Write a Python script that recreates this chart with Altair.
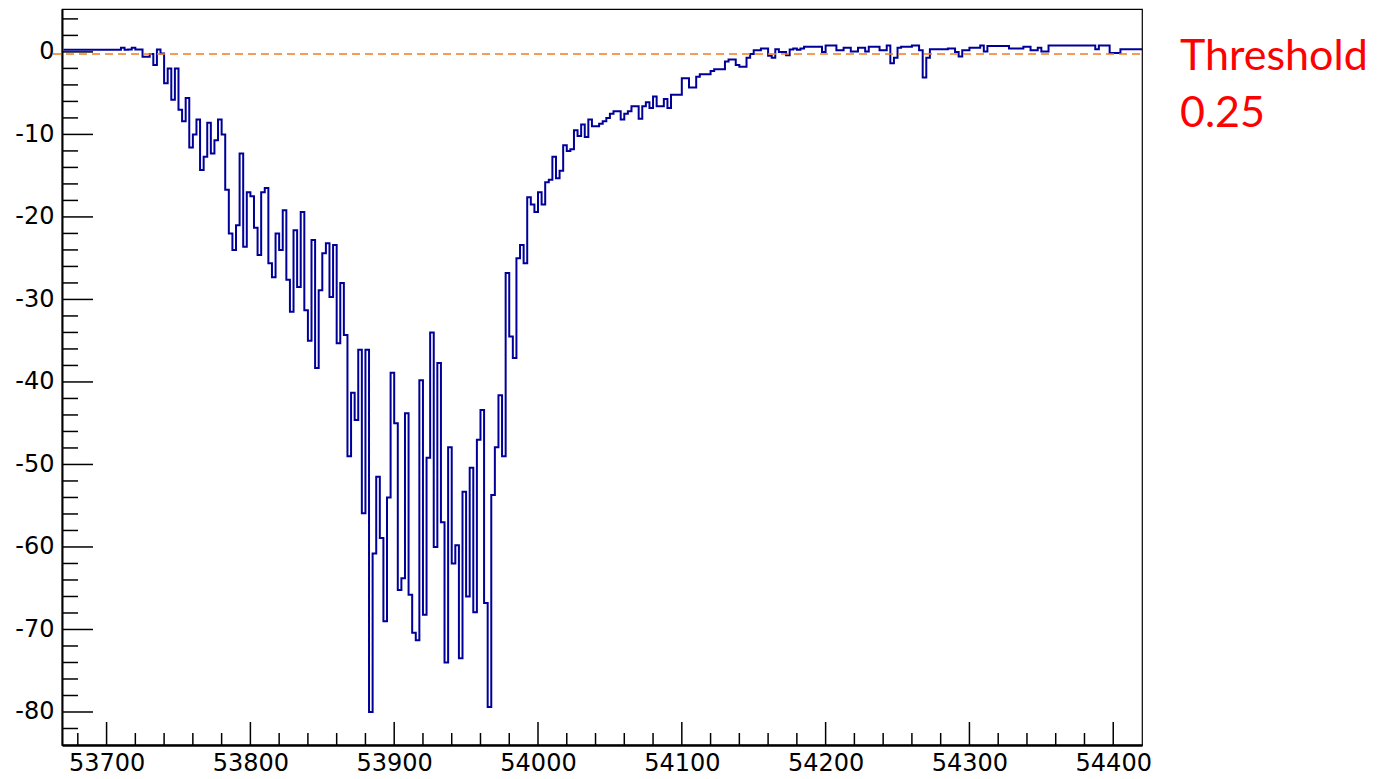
import altair as alt
import pandas as pd

# ---------------- data ----------------
X_START = 53670.0
BIN_WIDTH = 2.5
counts = [
    0.25, 0.25, 0.25, 0.25, 0.25, 0.25, 0.25, 0.25, 0.25, 0.25,
    0.25, 0.25, 0.25, 0.25, 0.25, 0.25, 0.5, 0.25, 0.3, 0.5,
    0.3, 0.3, -0.6, -0.6, -0.25, -1.6, 0.3, -0.2, -3.8, -2.0,
    -5.8, -2.0, -7.0, -8.4, -5.6, -11.6, -10.0, -8.2, -14.3, -12.7,
    -8.6, -12.3, -10.7, -8.2, -10.0, -16.7, -22.0, -24.0, -21.0, -12.3,
    -23.6, -17.0, -17.5, -21.3, -24.6, -17.0, -16.5, -25.6, -27.3, -22.0,
    -24.0, -19.2, -27.6, -31.5, -21.6, -28.5, -19.4, -31.3, -35.0, -22.8,
    -38.3, -28.9, -24.4, -23.2, -29.7, -23.4, -35.3, -28.0, -34.3, -49.0,
    -41.3, -44.6, -36.1, -55.9, -36.1, -80.0, -60.8, -51.5, -58.9, -69.0,
    -54.0, -38.9, -45.0, -65.2, -63.8, -43.8, -65.8, -70.4, -71.3, -39.8,
    -68.2, -49.2, -34.0, -60.0, -37.7, -57.0, -74.0, -47.9, -62.0, -59.8,
    -73.5, -53.3, -66.0, -50.4, -67.9, -47.0, -43.4, -66.8, -79.4, -53.7,
    -47.9, -41.6, -49.0, -26.8, -34.5, -37.1, -25.0, -23.4, -25.6, -17.6,
    -18.5, -19.4, -17.0, -18.5, -15.8, -15.5, -12.7, -15.3, -14.4, -11.3,
    -12.0, -11.8, -9.5, -10.2, -8.8, -10.3, -8.2, -9.0, -9.0, -8.7,
    -8.4, -8.0, -7.5, -7.2, -7.2, -8.2, -7.5, -7.2, -6.6, -6.6,
    -8.1, -6.6, -6.1, -6.8, -5.4, -6.6, -6.6, -5.7, -6.8, -5.2,
    -5.2, -5.2, -3.2, -3.2, -4.3, -4.3, -3.0, -2.7, -2.7, -2.7,
    -2.3, -2.1, -2.1, -2.1, -1.16, -0.93, -0.93, -1.6, -1.8, -1.8,
    -0.7, -0.26, 0.19, 0.2, 0.42, 0.42, -0.48, -0.7, 0.33, 0.0,
    0.0, -0.4, 0.3, 0.4, 0.25, 0.4, 0.64, 0.64, 0.64, 0.64,
    0.64, 0.0, 0.78, 0.78, 0.78, 0.19, 0.19, 0.5, 0.5, 0.06,
    0.06, 0.5, 0.5, 0.06, 0.64, 0.64, 0.64, 0.19, 0.19, 0.78,
    -1.38, -0.7, 0.5, 0.64, 0.64, 0.64, 0.78, 0.78, 0.19, -3.1,
    -0.7, 0.33, 0.33, 0.33, 0.33, 0.33, 0.42, 0.42, 0.0, -0.57,
    0.19, 0.19, 0.5, 0.5, 0.5, 0.78, 0.06, 0.73, 0.73, 0.73,
    0.73, 0.73, 0.73, 0.42, 0.42, 0.42, 0.42, 0.64, 0.64, 0.19,
    0.19, 0.5, 0.06, 0.06, 0.78, 0.78, 0.78, 0.78, 0.78, 0.78,
    0.78, 0.78, 0.78, 0.78, 0.78, 0.78, 0.78, 0.33, 0.78, 0.78,
    0.78, -0.12, -0.12, -0.12, 0.33, 0.33, 0.33, 0.33, 0.33, 0.33,
]

X_MAJOR = [53700, 53800, 53900, 54000, 54100, 54200, 54300, 54400]
X_MINOR = [53680, 53720, 53740, 53760, 53780, 53820, 53840, 53860, 53880,
           53920, 53940, 53960, 53980, 54020, 54040, 54060, 54080, 54120,
           54140, 54160, 54180, 54220, 54240, 54260, 54280, 54320, 54340,
           54360, 54380]
Y_MAJOR = [0, -10, -20, -30, -40, -50, -60, -70, -80]
Y_MINOR = [4, 2, -2, -4, -6, -8, -12, -14, -16, -18, -22, -24, -26, -28,
           -32, -34, -36, -38, -42, -44, -46, -48, -52, -54, -56, -58,
           -62, -64, -66, -68, -72, -74, -76, -78, -82]
THRESHOLD = [-0.25]
LABEL_LINES = ["Threshold", "0.25"]

X_DOMAIN = [53669, 54420]
Y_DOMAIN = [-84, 5.2]

# ---------------- layout ----------------
W, H = 1080, 736

edges = [X_START + i * BIN_WIDTH for i in range(len(counts) + 1)]
step_df = pd.DataFrame({"x": edges, "y": counts + [counts[-1]]})

xs = alt.Scale(domain=X_DOMAIN, nice=False, zero=False)
ys = alt.Scale(domain=Y_DOMAIN, nice=False, zero=False)

FONT = "DejaVu Sans"

xaxis = alt.Axis(values=X_MAJOR, labelExpr="'' + datum.value",
                 ticks=False, tickSize=0, grid=False,
                 domainColor="black", domainWidth=2.5,
                 labelFont=FONT, labelFontSize=24, labelColor="black",
                 labelPadding=6, labelFlush=False, labelOverlap=False)
yaxis = alt.Axis(values=Y_MAJOR, labelExpr="'' + datum.value",
                 ticks=False, tickSize=0, grid=False,
                 domainColor="black", domainWidth=2,
                 labelFont=FONT, labelFontSize=24, labelColor="black",
                 labelPadding=8, labelOverlap=False)


def X(field):
    return alt.X(field, scale=xs, title="", axis=xaxis)


def Y(field):
    return alt.Y(field, scale=ys, title="", axis=yaxis)


line = alt.Chart(step_df).mark_line(
    interpolate="step-after", color="#000099", strokeWidth=2.0
).encode(x=X("x:Q"), y=Y("y:Q"))

ymaj = alt.Chart(pd.DataFrame({"v": Y_MAJOR})).mark_rule(
    color="black", strokeWidth=1.5
).encode(y=Y("v:Q"), x=alt.value(0), x2=alt.value(31))

ymin = alt.Chart(pd.DataFrame({"v": Y_MINOR})).mark_rule(
    color="black", strokeWidth=1.5
).encode(y=Y("v:Q"), x=alt.value(0), x2=alt.value(16))

xmaj = alt.Chart(pd.DataFrame({"v": X_MAJOR})).mark_rule(
    color="black", strokeWidth=1.5
).encode(x=X("v:Q"), y=alt.value(H), y2=alt.value(H - 23))

xmin = alt.Chart(pd.DataFrame({"v": X_MINOR})).mark_rule(
    color="black", strokeWidth=1.5
).encode(x=X("v:Q"), y=alt.value(H), y2=alt.value(H - 12))

thr = alt.Chart(pd.DataFrame({"t": THRESHOLD})).mark_rule(
    color="#f47b20", strokeDash=[8, 5], strokeWidth=1.5
).encode(y=Y("t:Q"), x=alt.value(-9), x2=alt.value(W))

txt1 = alt.Chart(pd.DataFrame({"label": [LABEL_LINES[0]]})).mark_text(
    align="left", baseline="alphabetic", font="Lato", fontSize=43, color="#ff0000"
).encode(text="label:N", x=alt.value(1118), y=alt.value(61))

txt2 = alt.Chart(pd.DataFrame({"label": [LABEL_LINES[1]]})).mark_text(
    align="left", baseline="alphabetic", font="Lato", fontSize=43, color="#ff0000"
).encode(text="label:N", x=alt.value(1118), y=alt.value(118))

chart = alt.layer(line, thr, ymaj, ymin, xmaj, xmin, txt1, txt2).properties(
    width=W, height=H,
    autosize="none",
    padding={"left": 62, "top": 9, "right": 242, "bottom": 34},
    background="white",
).configure_view(stroke="black", strokeWidth=1.2)

chart.save("out.html", embed_options={"renderer": "svg", "actions": False})
